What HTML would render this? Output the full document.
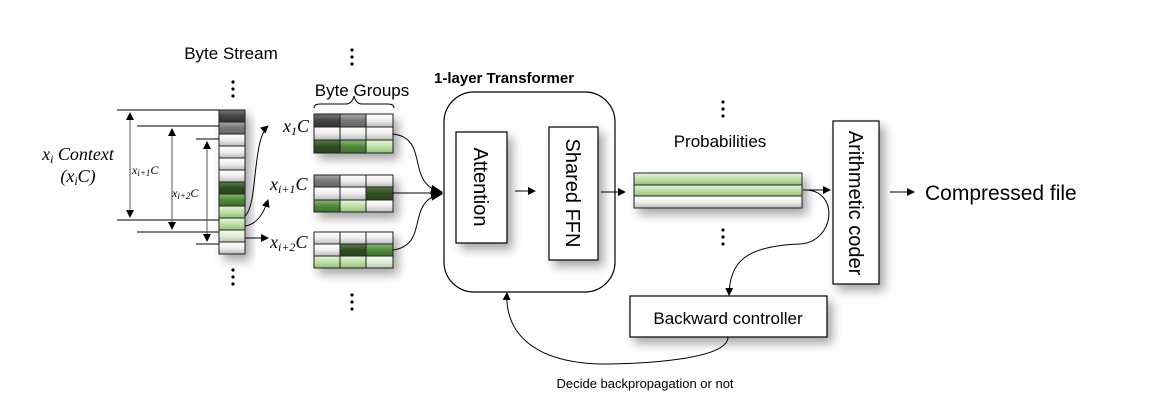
<!DOCTYPE html>
<html><head><meta charset="utf-8"><style>
html,body{margin:0;padding:0;background:#fff;}
svg{display:block;}
text{font-family:"Liberation Sans",sans-serif;}
.it{font-family:"Liberation Serif",serif;font-style:italic;}
</style></head><body>
<svg width="1174" height="400" viewBox="0 0 1174 400" xmlns="http://www.w3.org/2000/svg">
<defs>
<filter id="sh" x="-30%" y="-30%" width="170%" height="170%"><feDropShadow dx="5" dy="6" stdDeviation="5" flood-color="#000" flood-opacity="0.35"/></filter>
<marker id="ah" markerWidth="8" markerHeight="8" refX="7" refY="4" orient="auto" markerUnits="userSpaceOnUse"><path d="M0,0 L8,4 L0,8 z" fill="#000"/></marker>
<marker id="ah2" markerWidth="12" markerHeight="10" refX="11" refY="5" orient="auto" markerUnits="userSpaceOnUse"><path d="M0,0 L12,5 L0,10 z" fill="#000"/></marker>
<linearGradient id="gdk" x1="0" y1="0" x2="0" y2="1"><stop offset="0" stop-color="#777"/><stop offset=".5" stop-color="#444"/><stop offset="1" stop-color="#333"/></linearGradient>
<linearGradient id="ggr" x1="0" y1="0" x2="0" y2="1"><stop offset="0" stop-color="#aaa"/><stop offset=".5" stop-color="#777"/><stop offset="1" stop-color="#666"/></linearGradient>
<linearGradient id="gwh" x1="0" y1="0" x2="0" y2="1"><stop offset="0" stop-color="#fff"/><stop offset=".5" stop-color="#eee"/><stop offset="1" stop-color="#bbb"/></linearGradient>
<linearGradient id="gdg" x1="0" y1="0" x2="0" y2="1"><stop offset="0" stop-color="#5a7a4a"/><stop offset=".5" stop-color="#2f4d22"/><stop offset="1" stop-color="#2a4420"/></linearGradient>
<linearGradient id="gg" x1="0" y1="0" x2="0" y2="1"><stop offset="0" stop-color="#8ab872"/><stop offset=".5" stop-color="#4f8a3a"/><stop offset="1" stop-color="#3f7030"/></linearGradient>
<linearGradient id="glg" x1="0" y1="0" x2="0" y2="1"><stop offset="0" stop-color="#e4f4d8"/><stop offset=".5" stop-color="#bfe0a8"/><stop offset="1" stop-color="#95c07c"/></linearGradient>
<linearGradient id="gvl" x1="0" y1="0" x2="0" y2="1"><stop offset="0" stop-color="#f6fbf2"/><stop offset=".5" stop-color="#e2efd8"/><stop offset="1" stop-color="#b8c8ae"/></linearGradient>
</defs>

<g filter="url(#sh)" stroke="#222" stroke-width="1">
<rect x="219" y="110" width="26" height="12" fill="url(#gdk)"/>
<rect x="219" y="122" width="26" height="12" fill="url(#ggr)"/>
<rect x="219" y="134" width="26" height="12" fill="url(#gwh)"/>
<rect x="219" y="146" width="26" height="12" fill="url(#gwh)"/>
<rect x="219" y="158" width="26" height="12" fill="url(#gwh)"/>
<rect x="219" y="170" width="26" height="12" fill="url(#gwh)"/>
<rect x="219" y="182" width="26" height="12" fill="url(#gdg)"/>
<rect x="219" y="194" width="26" height="12" fill="url(#gg)"/>
<rect x="219" y="206" width="26" height="12" fill="url(#glg)"/>
<rect x="219" y="218" width="26" height="12" fill="url(#glg)"/>
<rect x="219" y="230" width="26" height="12" fill="url(#gvl)"/>
<rect x="219" y="242" width="26" height="12" fill="url(#gwh)"/>
</g>
<text x="231" y="59" font-size="17" text-anchor="middle">Byte Stream</text>
<g fill="#000"><circle cx="233" cy="82" r="1.6"/><circle cx="233" cy="89" r="1.6"/><circle cx="233" cy="96" r="1.6"/>
<circle cx="233" cy="270" r="1.6"/><circle cx="233" cy="277" r="1.6"/><circle cx="233" cy="284" r="1.6"/>
<circle cx="352" cy="50" r="1.6"/><circle cx="352" cy="57" r="1.6"/><circle cx="352" cy="64" r="1.6"/>
<circle cx="352" cy="295" r="1.6"/><circle cx="352" cy="302" r="1.6"/><circle cx="352" cy="309" r="1.6"/>
<circle cx="723" cy="102" r="1.6"/><circle cx="723" cy="109" r="1.6"/><circle cx="723" cy="116" r="1.6"/>
<circle cx="723" cy="230" r="1.6"/><circle cx="723" cy="237" r="1.6"/><circle cx="723" cy="244" r="1.6"/></g>

<g stroke="#000" stroke-width="1" fill="none">
<line x1="117" y1="110" x2="219" y2="110"/><line x1="117" y1="220" x2="219" y2="220"/>
<line x1="137" y1="126" x2="219" y2="126"/><line x1="137" y1="232" x2="219" y2="232"/>
<line x1="196" y1="139" x2="219" y2="139"/><line x1="196" y1="244" x2="219" y2="244"/>
</g>
<g stroke="#555" stroke-width="1">
<line x1="130" y1="114" x2="130" y2="216"/><line x1="172" y1="130" x2="172" y2="228"/><line x1="207" y1="143" x2="207" y2="240"/>
</g>
<g fill="#000">
<path d="M130,112 l-4,8 h8z"/><path d="M130,218 l-4,-8 h8z"/>
<path d="M172,128 l-4,8 h8z"/><path d="M172,230 l-4,-8 h8z"/>
<path d="M207,141 l-4,8 h8z"/><path d="M207,242 l-4,-8 h8z"/>
</g>
<text x="78" y="160" font-size="18" text-anchor="middle" class="it">x<tspan font-size="12" dy="3">i</tspan><tspan dy="-3"> Context</tspan></text>
<text x="78" y="182" font-size="18" text-anchor="middle" class="it">(x<tspan font-size="12" dy="3">i</tspan><tspan dy="-3">C)</tspan></text>
<text x="132" y="174" font-size="12" class="it">x<tspan font-size="9" dy="2">i+1</tspan><tspan dy="-2">C</tspan></text>
<text x="172" y="197" font-size="12" class="it">x<tspan font-size="9" dy="2">i+2</tspan><tspan dy="-2">C</tspan></text>

<g stroke="#000" stroke-width="1" fill="none">
<path d="M245,216 C258,205 252,140 268,126" marker-end="url(#ah)"/>
<path d="M245,226 C258,224 264,212 268,200" marker-end="url(#ah)"/>
<path d="M245,238 L268,238" marker-end="url(#ah)"/>
</g>

<g filter="url(#sh)" stroke="#222" stroke-width="1">
<rect x="314" y="114" width="26" height="13" fill="url(#gdk)"/><rect x="340" y="114" width="26" height="13" fill="url(#ggr)"/><rect x="366" y="114" width="27" height="13" fill="url(#gwh)"/>
<rect x="314" y="127" width="26" height="13" fill="url(#gwh)"/><rect x="340" y="127" width="26" height="13" fill="url(#gwh)"/><rect x="366" y="127" width="27" height="13" fill="url(#gwh)"/>
<rect x="314" y="140" width="26" height="13" fill="url(#gdg)"/><rect x="340" y="140" width="26" height="13" fill="url(#gg)"/><rect x="366" y="140" width="27" height="13" fill="url(#glg)"/>

<rect x="314" y="175" width="26" height="12" fill="url(#ggr)"/><rect x="340" y="175" width="26" height="12" fill="url(#gwh)"/><rect x="366" y="175" width="27" height="12" fill="url(#gwh)"/>
<rect x="314" y="187" width="26" height="13" fill="url(#gwh)"/><rect x="340" y="187" width="26" height="13" fill="url(#gwh)"/><rect x="366" y="187" width="27" height="13" fill="url(#gdg)"/>
<rect x="314" y="200" width="26" height="12" fill="url(#gg)"/><rect x="340" y="200" width="26" height="12" fill="url(#glg)"/><rect x="366" y="200" width="27" height="12" fill="url(#gwh)"/>

<rect x="314" y="232" width="26" height="12" fill="url(#gwh)"/><rect x="340" y="232" width="26" height="12" fill="url(#gwh)"/><rect x="366" y="232" width="27" height="12" fill="url(#gwh)"/>
<rect x="314" y="244" width="26" height="12" fill="url(#gwh)"/><rect x="340" y="244" width="26" height="12" fill="url(#gdg)"/><rect x="366" y="244" width="27" height="12" fill="url(#gg)"/>
<rect x="314" y="256" width="26" height="12" fill="url(#glg)"/><rect x="340" y="256" width="26" height="12" fill="url(#glg)"/><rect x="366" y="256" width="27" height="12" fill="url(#gvl)"/>
</g>
<text x="362" y="96" font-size="17" text-anchor="middle">Byte Groups</text>
<path d="M314,108 q0,-4 6,-4 h26 q6,0 8,-8 q2,8 8,8 h26 q6,0 6,4" stroke="#000" fill="none" stroke-width="1"/>
<text x="283" y="132" font-size="18" class="it">x<tspan font-size="12" dy="3">1</tspan><tspan dy="-3">C</tspan></text>
<text x="270" y="190" font-size="18" class="it">x<tspan font-size="12" dy="3">i+1</tspan><tspan dy="-3">C</tspan></text>
<text x="270" y="248" font-size="18" class="it">x<tspan font-size="12" dy="3">i+2</tspan><tspan dy="-3">C</tspan></text>

<g stroke="#000" stroke-width="1" fill="none">
<path d="M393,134 C430,138 405,185 442,192" marker-end="url(#ah2)"/>
<path d="M393,193 L442,193" marker-end="url(#ah2)"/>
<path d="M393,250 C430,245 405,200 442,194" marker-end="url(#ah2)"/>
</g>

<text x="434" y="83" font-size="15" font-weight="bold">1-layer Transformer</text>
<rect x="444" y="92" width="171" height="200" rx="30" fill="#fff" stroke="#000" stroke-width="1.2"/>
<rect x="456" y="132" width="51" height="111" fill="#fff" stroke="#000" stroke-width="1.2" filter="url(#sh)"/>
<rect x="549" y="127" width="49" height="133" fill="#fff" stroke="#000" stroke-width="1.2" filter="url(#sh)"/>
<text transform="translate(474,187) rotate(90)" font-size="20" text-anchor="middle">Attention</text>
<text transform="translate(566,193) rotate(90)" font-size="20" text-anchor="middle">Shared FFN</text>
<line x1="515" y1="191" x2="535" y2="191" stroke="#000" marker-end="url(#ah)"/>
<line x1="601" y1="192" x2="625" y2="192" stroke="#000" marker-end="url(#ah)"/>

<text x="720" y="147" font-size="17" text-anchor="middle">Probabilities</text>
<g filter="url(#sh)" stroke="#222" stroke-width="1">
<rect x="634" y="173" width="168" height="12" fill="url(#glg)"/>
<rect x="634" y="185" width="168" height="11" fill="url(#glg)"/>
<rect x="634" y="196" width="168" height="12" fill="url(#gwh)"/>
</g>
<line x1="803" y1="190" x2="830" y2="190" stroke="#000" marker-end="url(#ah)"/>

<rect x="833" y="121" width="46" height="163" fill="#fff" stroke="#000" stroke-width="1.2" filter="url(#sh)"/>
<text transform="translate(849,203) rotate(90)" font-size="20" text-anchor="middle">Arithmetic coder</text>
<line x1="890" y1="192" x2="914" y2="192" stroke="#000" marker-end="url(#ah)"/>
<text x="925" y="200" font-size="21">Compressed file</text>

<rect x="630" y="296" width="197" height="41" fill="#fff" stroke="#000" stroke-width="1.2" filter="url(#sh)"/>
<text x="728" y="324" font-size="17" text-anchor="middle">Backward controller</text>
<g stroke="#000" stroke-width="1" fill="none">
<path d="M805,190 C840,190 835,242 800,244 C745,246 730,262 729,295" marker-end="url(#ah)"/>
<path d="M728,337 C728,360 640,364 600,364 C530,362 505,330 507,293" marker-end="url(#ah)"/>
</g>
<text x="645" y="388" font-size="13" text-anchor="middle">Decide backpropagation or not</text>
</svg>
</body></html>
